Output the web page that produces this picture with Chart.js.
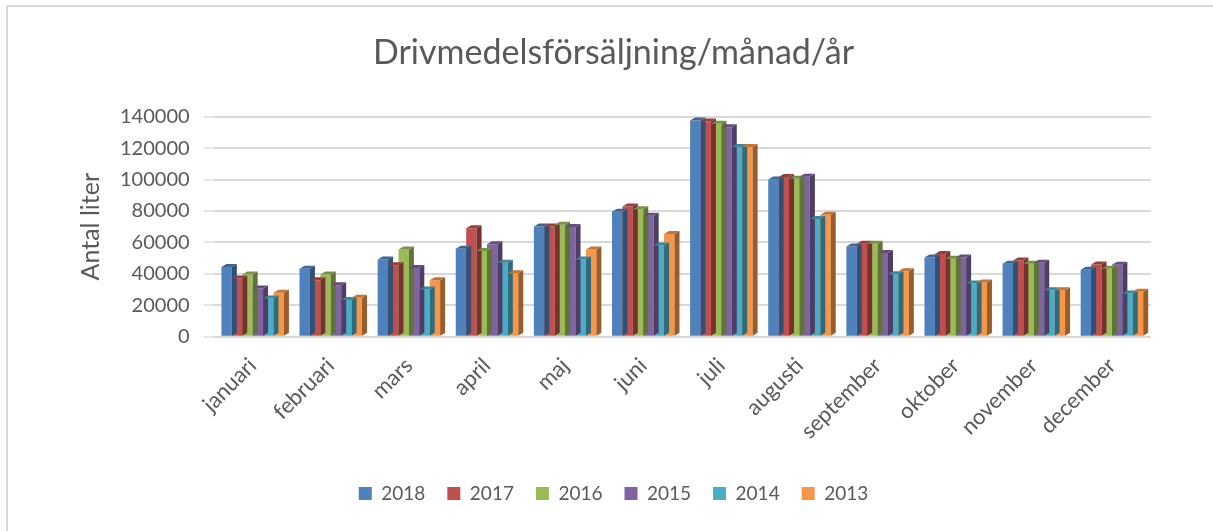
<!DOCTYPE html>
<html>
<head>
<meta charset="utf-8">
<script src="https://cdn.jsdelivr.net/npm/chart.js@4/dist/chart.umd.min.js"></script>
<style>
  html, body { margin: 0; padding: 0; background: #fff; }
  #frame { position: absolute; left: 6px; top: 5px; width: 1207px; height: 526px;
           border-left: 2px solid #d9d9d9; border-top: 2px solid #d9d9d9; }
  #wrap { position: absolute; left: 0; top: 0; width: 1213px; height: 531px; }
</style>
</head>
<body>
<div id="frame"></div>
<div id="wrap"><canvas id="myChart"></canvas></div>
<script>
const months = ['januari', 'februari', 'mars', 'april', 'maj', 'juni', 'juli', 'augusti', 'september', 'oktober', 'november', 'december'];
const y2018 = [44300, 43300, 49200, 55900, 70200, 79500, 137600, 100100, 57400, 50400, 46400, 42600];
const y2017 = [37000, 35900, 45400, 69000, 70200, 82900, 137000, 101600, 59100, 52700, 48500, 46000];
const y2016 = [39500, 39500, 55500, 54600, 71300, 81200, 135500, 100600, 59100, 49600, 46400, 43300];
const y2015 = [30600, 32700, 43700, 58900, 69800, 77000, 133400, 101800, 53200, 50400, 47000, 45800];
const y2014 = [24300, 23300, 30000, 47000, 49200, 58000, 120800, 74900, 39700, 33800, 29600, 27500];
const y2013 = [28000, 24700, 35900, 40300, 55500, 65400, 120800, 77600, 41600, 34400, 29600, 28600];
const yTicks = [0, 20000, 40000, 60000, 80000, 100000, 120000, 140000];

const FONT = "Lato";
const GREY = "#595959";

// small 3d look: darker right side and top on each bar
function shade(hex, f) {
  const n = parseInt(hex.slice(1), 16);
  const r = Math.round(((n >> 16) & 255) * f), g = Math.round(((n >> 8) & 255) * f), b = Math.round((n & 255) * f);
  return `rgb(${r},${g},${b})`;
}
const bar3d = {
  id: 'bar3d',
  afterDatasetsDraw(chart) {
    const ctx = chart.ctx, dx = 5, dy = -3;
    chart.data.datasets.forEach((ds, i) => {
      chart.getDatasetMeta(i).data.forEach(bar => {
        const l = bar.x - bar.width / 2, r = bar.x + bar.width / 2, t = bar.y, b = bar.base;
        ctx.save();
        ctx.fillStyle = shade(ds.backgroundColor, 0.62);
        ctx.beginPath();
        ctx.moveTo(r, t); ctx.lineTo(r + dx, t + dy); ctx.lineTo(r + dx, b + dy); ctx.lineTo(r, b);
        ctx.closePath(); ctx.fill();
        ctx.fillStyle = shade(ds.backgroundColor, 0.78);
        ctx.beginPath();
        ctx.moveTo(l, t); ctx.lineTo(l + dx, t + dy); ctx.lineTo(r + dx, t + dy); ctx.lineTo(r, t);
        ctx.closePath(); ctx.fill();
        ctx.restore();
      });
    });
  }
};

new Chart(document.getElementById("myChart"), {
  type: 'bar',
  data: {
    labels: months,
    datasets: [
      { label: "2018", data: y2018, backgroundColor: "#4f81bd" },
      { label: "2017", data: y2017, backgroundColor: "#c0504d" },
      { label: "2016", data: y2016, backgroundColor: "#9bbb59" },
      { label: "2015", data: y2015, backgroundColor: "#8064a2" },
      { label: "2014", data: y2014, backgroundColor: "#4bacc6" },
      { label: "2013", data: y2013, backgroundColor: "#f79646" }
    ]
  },
  options: {
    responsive: true,
    maintainAspectRatio: false,
    animation: false,
    datasets: { bar: { barPercentage: 1, categoryPercentage: 0.8 } },
    layout: { padding: { left: 76, right: 62, top: 33, bottom: 18 } },
    plugins: {
      title: {
        display: true,
        text: "Drivmedelsförsäljning/månad/år",
        color: GREY,
        font: { family: FONT, size: 34, weight: 'normal' },
        padding: { top: 0, bottom: 43 }
      },
      legend: {
        position: 'bottom',
        labels: { color: GREY, font: { family: FONT, size: 19 }, boxWidth: 13, boxHeight: 13, padding: 22 }
      },
      tooltip: { enabled: false }
    },
    scales: {
      x: {
        grid: { display: false },
        border: { display: false },
        ticks: { color: GREY, font: { family: FONT, size: 22 }, minRotation: 45, maxRotation: 45, padding: 8 },
        afterFit: s => { s.height += 10; }
      },
      y: {
        min: 0,
        max: 140000,
        afterBuildTicks: axis => { axis.ticks = yTicks.map(v => ({ value: v })); },
        grid: { color: "#d9d9d9", lineWidth: 2, drawTicks: true, tickLength: 10, tickColor: "#e6e6e6" },
        border: { display: false },
        ticks: { color: GREY, font: { family: FONT, size: 20 }, padding: 14, callback: v => String(v) },
        title: { display: true, text: "Antal liter", color: GREY, font: { family: FONT, size: 25 }, padding: { top: 0, bottom: 0 } }
      }
    }
  },
  plugins: [bar3d]
});
</script>
</body>
</html>
